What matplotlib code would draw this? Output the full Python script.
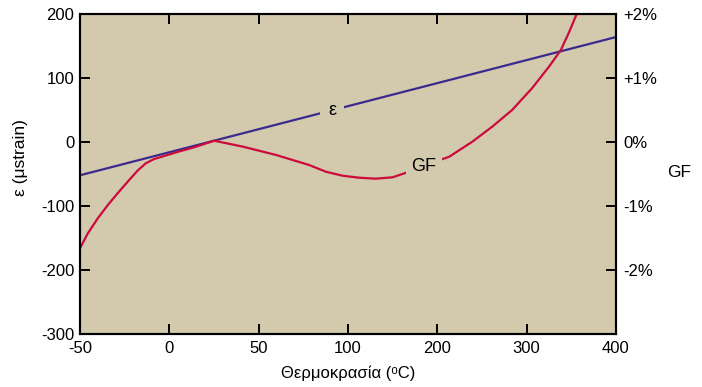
import numpy as np
import matplotlib
matplotlib.use('Agg')
import matplotlib.pyplot as plt

plt.rcParams['font.family'] = ['Liberation Sans', 'DejaVu Sans']
plt.rcParams['axes.unicode_minus'] = False

# x axis ticks are evenly spaced but not linear in temperature
tick_temps = [-50, 0, 50, 100, 200, 300, 400]
tick_labels = ['-50', '0', '50', '100', '200', '300', '400']

# epsilon (ustrain), read at the tick temperatures
eps_temp = [-50, 0, 50, 100, 200, 300, 400]
eps_val = [-52, -16, 20, 56, 92, 128, 164]

# GF curve, in left-axis units (100 = 1%)
gf_temp = [-50, -45.6, -40, -34.4, -28.9, -23.3, -17.8, -13.2, -8.5, -2.9, 4.5, 13.9, 25.1,
           41.2, 59.8, 78.3, 87.6, 96.8, 112.4, 131, 149.8, 163,
           205.9, 213.3, 239.2, 261.5, 283.7, 306, 325, 338.3, 347.7, 356]
gf_val = [-166, -142.7, -119, -98.4, -80, -62, -44.8, -33.3, -26.6, -21.9, -15.6, -8.3, 2,
          -7.3, -20.3, -36, -46.4, -52.6, -55.8, -57.3, -55.2, -49,
          -26.6, -23, 0.5, 24, 50, 84, 117.7, 143.8, 172.3, 200]

y_ticks = [-300, -200, -100, 0, 100, 200]
gf_ticks = [-200, -100, 0, 100, 200]
gf_labels = ['-2%', '-1%', '0%', '+1%', '+2%']

bg = '#D3C9AD'
red = '#CC0A3C'
blue = '#3B2A8E'

pos = np.arange(len(tick_temps))


def fwd(t):
    return np.interp(t, tick_temps, pos)


def inv(p):
    return np.interp(p, pos, tick_temps)


fig = plt.figure(figsize=(7.02, 3.87), dpi=100)
ax = fig.add_axes([80 / 702, 53 / 387, 536 / 702, 320 / 387])
ax.set_facecolor(bg)
ax.set_xscale('function', functions=(fwd, inv))
ax.set_xlim(-50, 400)
ax.set_ylim(-300, 200)

ax.plot(eps_temp, eps_val, color=blue, lw=1.6, zorder=2)
ax.plot(gf_temp, gf_val, color=red, lw=1.6, zorder=2, solid_joinstyle='round')

ax.text(91, 49, 'ε', fontsize=13, ha='center', va='center', zorder=3,
        bbox=dict(boxstyle='square,pad=0.45', fc=bg, ec='none'))
ax.text(185, -39, 'GF', fontsize=13, ha='center', va='center', zorder=3,
        bbox=dict(boxstyle='square,pad=0.3', fc=bg, ec='none'))

ax.set_xticks(tick_temps)
ax.set_xticklabels(tick_labels)
ax.set_yticks(y_ticks)
ax.tick_params(direction='in', length=7, width=1.4, labelsize=12, top=True, pad=4)
ax.tick_params(axis='x', pad=5)
for s in ax.spines.values():
    s.set_linewidth(1.5)

ax.set_xlabel('Θερμοκρασία (ᵒC)', fontsize=12, labelpad=7)
ax.set_ylabel('ε (μstrain)', fontsize=12.5)
ax.yaxis.set_label_coords(-0.097, 0.55)

ax2 = ax.twinx()
ax2.set_ylim(-300, 200)
ax2.set_yticks(gf_ticks)
ax2.set_yticklabels(gf_labels)
ax2.tick_params(direction='in', length=7, width=1.4, labelsize=12, pad=5)
ax2.set_ylabel('GF', rotation=0, fontsize=12.5, va='center', ha='center')
ax2.yaxis.set_label_coords(1.1175, 0.505)
for s in ax2.spines.values():
    s.set_linewidth(1.5)

fig.savefig('out.png', dpi=100)
